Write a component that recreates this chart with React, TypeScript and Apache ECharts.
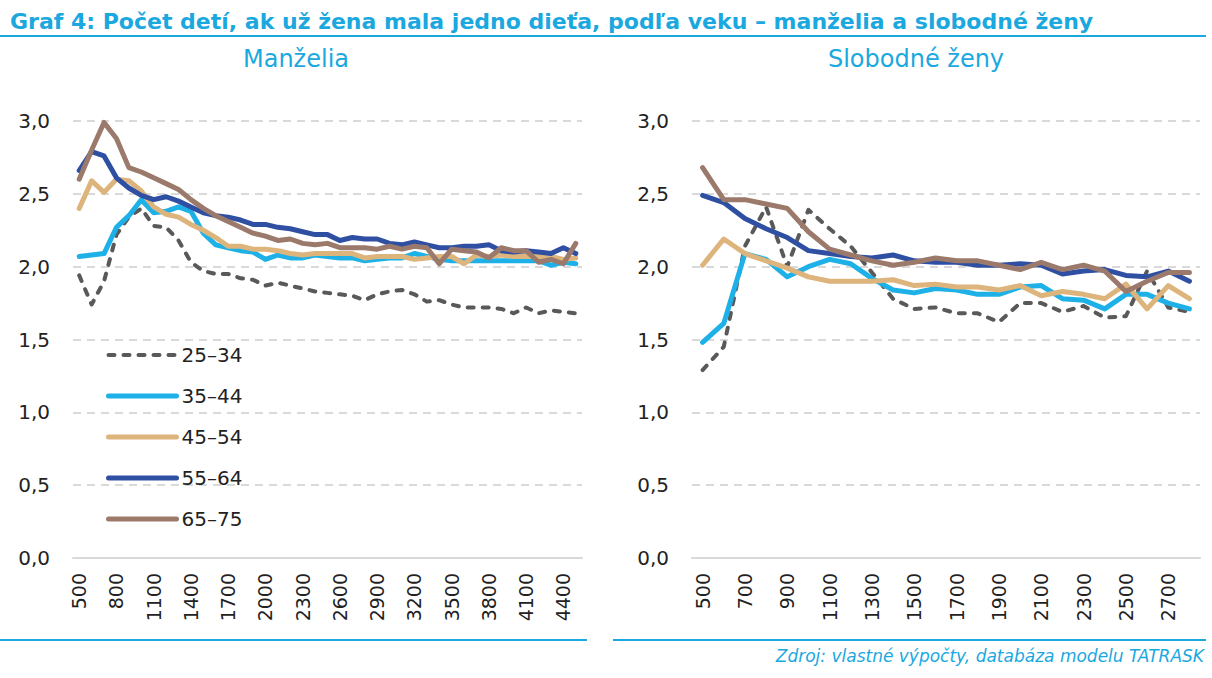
import React, { useEffect, useRef } from "react";
import * as echarts from "echarts";

// Household income categories (x axis)
const incomeMarried = [
  "500", "600", "700", "800", "900", "1000", "1100", "1200", "1300", "1400",
  "1500", "1600", "1700", "1800", "1900", "2000", "2100", "2200", "2300", "2400",
  "2500", "2600", "2700", "2800", "2900", "3000", "3100", "3200", "3300", "3400",
  "3500", "3600", "3700", "3800", "3900", "4000", "4100", "4200", "4300", "4400",
  "4500",
];
const incomeSingle = [
  "500", "600", "700", "800", "900", "1000", "1100", "1200", "1300", "1400",
  "1500", "1600", "1700", "1800", "1900", "2000", "2100", "2200", "2300", "2400",
  "2500", "2600", "2700", "2800",
];

const ageGroups = ["25–34", "35–44", "45–54", "55–64", "65–75"];

// Married couples
const married25_34 = [1.94, 1.74, 1.9, 2.22, 2.34, 2.4, 2.28, 2.27, 2.18, 2.03, 1.97, 1.95, 1.95, 1.92, 1.91, 1.87, 1.89, 1.87, 1.85, 1.83, 1.82, 1.81, 1.8, 1.77, 1.81, 1.83, 1.84, 1.81, 1.76, 1.77, 1.74, 1.72, 1.72, 1.72, 1.71, 1.68, 1.72, 1.68, 1.7, 1.69, 1.68];
const married35_44 = [2.07, 2.08, 2.09, 2.27, 2.35, 2.46, 2.37, 2.38, 2.41, 2.38, 2.23, 2.15, 2.13, 2.11, 2.1, 2.05, 2.08, 2.06, 2.06, 2.08, 2.07, 2.06, 2.06, 2.04, 2.05, 2.06, 2.06, 2.09, 2.07, 2.05, 2.04, 2.04, 2.04, 2.04, 2.04, 2.04, 2.04, 2.04, 2.01, 2.03, 2.02];
const married45_54 = [2.4, 2.59, 2.51, 2.6, 2.59, 2.52, 2.41, 2.36, 2.34, 2.29, 2.25, 2.2, 2.14, 2.14, 2.12, 2.12, 2.11, 2.09, 2.08, 2.09, 2.09, 2.09, 2.09, 2.06, 2.07, 2.07, 2.07, 2.05, 2.06, 2.07, 2.07, 2.02, 2.08, 2.07, 2.08, 2.07, 2.07, 2.07, 2.07, 2.05, 2.06];
const married55_64 = [2.66, 2.79, 2.76, 2.61, 2.54, 2.49, 2.46, 2.48, 2.45, 2.41, 2.37, 2.35, 2.34, 2.32, 2.29, 2.29, 2.27, 2.26, 2.24, 2.22, 2.22, 2.18, 2.2, 2.19, 2.19, 2.16, 2.15, 2.17, 2.15, 2.13, 2.13, 2.14, 2.14, 2.15, 2.11, 2.1, 2.11, 2.1, 2.09, 2.13, 2.09];
const married65_75 = [2.6, 2.8, 2.99, 2.88, 2.68, 2.65, 2.61, 2.57, 2.53, 2.46, 2.4, 2.35, 2.31, 2.27, 2.23, 2.21, 2.18, 2.19, 2.16, 2.15, 2.16, 2.13, 2.13, 2.13, 2.12, 2.14, 2.12, 2.14, 2.13, 2.02, 2.12, 2.11, 2.1, 2.06, 2.13, 2.11, 2.11, 2.03, 2.05, 2.02, 2.16];

// Single women
const single25_34 = [1.29, 1.45, 2.14, 2.41, 2.0, 2.39, 2.26, 2.14, 1.96, 1.78, 1.71, 1.72, 1.68, 1.68, 1.62, 1.75, 1.75, 1.69, 1.73, 1.65, 1.66, 1.97, 1.72, 1.69];
const single35_44 = [1.48, 1.61, 2.09, 2.05, 1.93, 2.0, 2.05, 2.02, 1.92, 1.84, 1.82, 1.85, 1.84, 1.81, 1.81, 1.86, 1.87, 1.78, 1.77, 1.71, 1.81, 1.81, 1.75, 1.71];
const single45_54 = [2.01, 2.19, 2.09, 2.04, 1.99, 1.93, 1.9, 1.9, 1.9, 1.91, 1.87, 1.88, 1.86, 1.86, 1.84, 1.87, 1.8, 1.83, 1.81, 1.78, 1.88, 1.71, 1.87, 1.78];
const single55_64 = [2.49, 2.44, 2.33, 2.26, 2.2, 2.11, 2.09, 2.07, 2.06, 2.08, 2.04, 2.03, 2.03, 2.01, 2.01, 2.02, 2.01, 1.95, 1.97, 1.98, 1.94, 1.93, 1.97, 1.9];
const single65_75 = [2.68, 2.46, 2.46, 2.43, 2.4, 2.24, 2.12, 2.08, 2.04, 2.01, 2.03, 2.06, 2.04, 2.04, 2.01, 1.98, 2.03, 1.98, 2.01, 1.97, 1.83, 1.9, 1.96, 1.96];

const marriedSeries = [married25_34, married35_44, married45_54, married55_64, married65_75];
const singleSeries = [single25_34, single35_44, single45_54, single55_64, single65_75];

const seriesColors = ["#595959", "#1EB1E7", "#DDB47C", "#2F4FA2", "#9B796B"];
const ACCENT = "#1AA8DF";
const TEXT = "#222222";
const FONT = "'DejaVu Sans', sans-serif";

export default function App() {
  const ref = useRef<HTMLDivElement>(null);

  useEffect(() => {
    if (!ref.current) return;
    const chart = echarts.init(ref.current, undefined, { renderer: "svg" });

    const yAxisBase = (gridIndex: number) => ({
      type: "value" as const,
      gridIndex,
      min: 0,
      max: 3,
      interval: 0.5,
      axisLine: { show: false },
      axisTick: { show: false },
      axisLabel: {
        color: TEXT,
        fontSize: 20,
        fontFamily: FONT,
        margin: 23,
        formatter: (v: number) => v.toFixed(1).replace(".", ","),
      },
      splitLine: {
        lineStyle: { color: "#D9D9D9", width: 2, type: [8, 6] as number[] },
      },
    });

    const xAxisBase = (gridIndex: number, data: string[], interval: number) => ({
      type: "category" as const,
      gridIndex,
      data,
      boundaryGap: true,
      axisLine: { lineStyle: { color: "#D9D9D9", width: 2 } },
      axisTick: { show: false },
      axisLabel: {
        color: TEXT,
        fontSize: 19,
        fontFamily: FONT,
        rotate: 90,
        interval,
        margin: 15,
      },
    });

    const makeSeries = (values: number[][], axisIndex: number) =>
      values.map((data, k) => ({
        name: ageGroups[k],
        type: "line" as const,
        xAxisIndex: axisIndex,
        yAxisIndex: axisIndex,
        data,
        symbol: "none",
        color: seriesColors[k],
        lineStyle: {
          color: seriesColors[k],
          width: k === 0 ? 4 : 5,
          type: k === 0 ? ([6, 9] as number[]) : "solid",
          cap: "round" as const,
          join: "round" as const,
        },
      }));

    chart.setOption({
      animation: false,
      backgroundColor: "#ffffff",
      title: [
        {
          text: "Graf 4: Počet detí, ak už žena mala jedno dieťa, podľa veku – manželia a slobodné ženy",
          left: 5,
          top: 5,
          textStyle: { color: ACCENT, fontSize: 22, fontWeight: "bold", fontFamily: FONT },
        },
        {
          text: "Manželia",
          left: 291,
          top: 42,
          textAlign: "center",
          textStyle: { color: ACCENT, fontSize: 24, fontWeight: "normal", fontFamily: FONT },
        },
        {
          text: "Slobodné ženy",
          left: 911,
          top: 42,
          textAlign: "center",
          textStyle: { color: ACCENT, fontSize: 24, fontWeight: "normal", fontFamily: FONT },
        },
      ],
      legend: {
        data: ageGroups,
        orient: "vertical",
        left: 101,
        top: 340,
        itemWidth: 68,
        itemHeight: 14,
        itemGap: 21,
        itemStyle: { opacity: 0 },
        lineStyle: { width: "inherit", cap: "round" },
        textStyle: { color: TEXT, fontSize: 20, fontFamily: FONT },
      },
      grid: [
        { left: 73, top: 121, width: 509, height: 437 },
        { left: 692, top: 121, width: 508, height: 437 },
      ],
      xAxis: [xAxisBase(0, incomeMarried, 2), xAxisBase(1, incomeSingle, 1)],
      yAxis: [yAxisBase(0), yAxisBase(1)],
      series: [...makeSeries(marriedSeries, 0), ...makeSeries(singleSeries, 1)],
      graphic: [
        {
          type: "line",
          shape: { x1: 0, y1: 36, x2: 1206, y2: 36 },
          style: { stroke: ACCENT, lineWidth: 2 },
        },
        {
          type: "line",
          shape: { x1: 0, y1: 640, x2: 587, y2: 640 },
          style: { stroke: ACCENT, lineWidth: 2 },
        },
        {
          type: "line",
          shape: { x1: 613, y1: 640, x2: 1206, y2: 640 },
          style: { stroke: ACCENT, lineWidth: 2 },
        },
        {
          type: "text",
          right: 8,
          top: 647,
          style: {
            text: "Zdroj: vlastné výpočty, databáza modelu TATRASK",
            fill: ACCENT,
            font: `italic 17px ${FONT}`,
          },
        },
      ],
    });

    return () => chart.dispose();
  }, []);

  return (
    <div
      ref={ref}
      style={{ position: "absolute", left: 0, top: 0, width: 1212, height: 678 }}
    />
  );
}
